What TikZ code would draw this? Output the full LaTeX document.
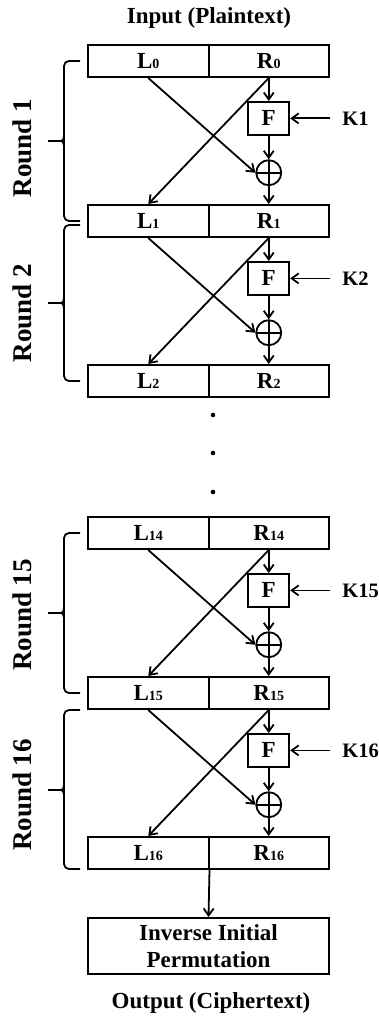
\documentclass[tikz,border=0pt]{standalone}
\usepackage{fontspec}
\setmainfont{Liberation Serif}
\usetikzlibrary{positioning,arrows.meta}
\newcommand{\blocknum}[1]{{\fontsize{14}{14}\selectfont #1}}

\begin{document}
\begin{tikzpicture}[x=1pt, y=-1pt, >={Straight Barb[length=7pt,width=10pt]},
        every node/.style={font=\bfseries\fontsize{23}{27}\selectfont},
        half/.style={draw, line width=2pt, minimum width=120.5pt, minimum height=32pt, inner sep=0pt},
        fbox/.style={draw, line width=1.8pt, minimum width=41pt, minimum height=33pt, inner sep=0pt},
        xor/.style={circle, draw, line width=1.8pt, minimum size=25pt, inner sep=0pt,
            path picture={\draw[line width=1.8pt] (path picture bounding box.north) -- (path picture bounding box.south)
                (path picture bounding box.west) -- (path picture bounding box.east);}},
        klabel/.style={inner sep=0pt, font=\bfseries\fontsize{20.5}{24}\selectfont},
        flow/.style={->, line width=1.8pt},
        roundbrace/.style={line width=1.8pt, rounded corners=5pt},
        roundlabel/.style={rotate=90, inner sep=0pt, font=\bfseries\fontsize{27}{30}\selectfont}]

        \useasboundingbox (0,0) rectangle (378,1019);

        % --- INPUT / OUTPUT TEXT ---
        \node (in) at (209, 18) {Input (Plaintext)};
        \node (out) at (211, 1003) {Output (Ciphertext)};

        % --- L/R BLOCKS ---
        \foreach \i/\y/\s in {0/45/0, 1/205/1, 2/365/2, 3/517/14, 4/677/15, 5/837/16} {
            \node[half] (L\i) at (148.25, \y+16) {L\blocknum{\s}};
            \node[half] (R\i) at (268.75, \y+16) {R\blocknum{\s}};
        }

        % skipped rounds
        \foreach \d in {415, 453, 492} {
            \fill (213, \d) circle (2.3);
        }

        % =========================================
        % ROUNDS (F, key, XOR and the swap)
        % =========================================
        \foreach \a/\b/\k in {0/1/1, 1/2/2, 3/4/15, 4/5/16} {
            \node[fbox, below=23pt of R\a] (F\k) {F};
            \node[xor, below=23.5pt of F\k] (X\k) {};
            \node[klabel, right=52pt of F\k] (K\k) {K\k};

            \draw[flow] (R\a.south) -- (F\k);
            \draw[flow] (F\k) -- (X\k);
            \draw[flow] (X\k) -- (X\k |- R\b.north);
            \draw[flow, shorten <=12pt] (K\k) -- (F\k);
            \draw[flow] (L\a.south) -- (X\k.west);
            \draw[flow] (R\a.south) -- (L\b.north);
        }

        % --- FINAL PERMUTATION ---
        \node[half, minimum width=241pt, minimum height=56pt, align=center] (iip) at (208.5, 946)
            {Inverse Initial\\Permutation};
        \draw[flow] (L5.south east) -- (iip.north);

        % --- ROUND BRACES ---
        \foreach \top/\bot/\tip/\r/\ly in {61/221/141/1/148, 225/381/303/2/313, 533/693/613/15/615, 710/869/790/16/795} {
            \draw[roundbrace] (80, \top) -- (64, \top) -- (64, \bot) -- (80, \bot);
            \draw[line width=1.8pt] (48, \tip) -- (58, \tip) .. controls (63, \tip) .. (64, \tip-5)
                (58, \tip) .. controls (63, \tip) .. (64, \tip+5);
            \node[roundlabel] (round\r) at (22, \ly) {Round \r};
        }

    \end{tikzpicture}
\end{document}
